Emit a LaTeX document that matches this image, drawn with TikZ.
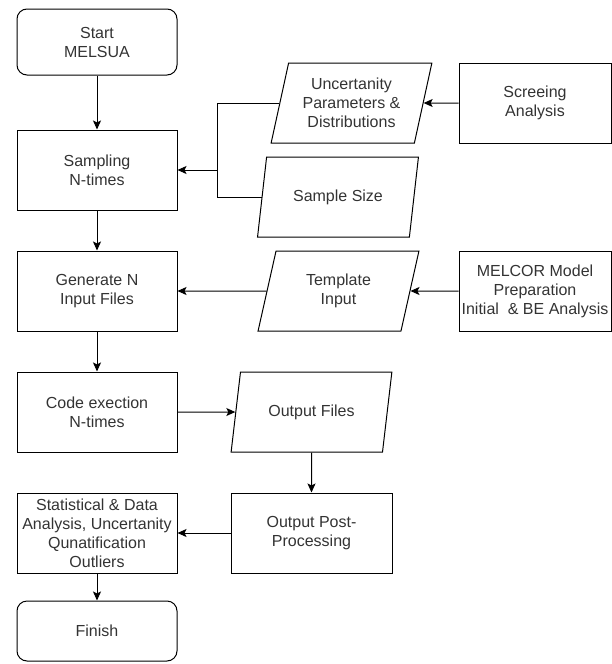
\documentclass[tikz,border=0pt]{standalone}
\usepackage{fontspec}
\newfontfamily\diafont{Liberation Sans}
\usetikzlibrary{arrows.meta,shapes.geometric}

\begin{document}
\begin{tikzpicture}[x=1pt,y=-1pt,>={Stealth[length=9pt,width=8pt,inset=2pt]},
  line width=1pt,
  every node/.style={font=\diafont\fontsize{16}{19}\selectfont,text=black!80,align=center},
  term node/.style={rectangle,rounded corners=10pt,draw,minimum width=160pt,minimum height=66pt,inner sep=1pt},
  proc node/.style={rectangle,draw,minimum width=160pt,minimum height=80pt,inner sep=1pt},
  side node/.style={rectangle,draw,minimum width=152pt,minimum height=80pt,inner sep=1pt},
  data node/.style={trapezium,draw,trapezium stretches=true,trapezium left angle=75,
    trapezium right angle=105,minimum width=161pt,minimum height=80pt,inner sep=1pt}]

  \useasboundingbox (0,0) rectangle (612,664);

  % main column
  \node[term node] (start) at (97,42) {Start\\MELSUA};
  \node[proc node] (sampling) at (97,170) {Sampling\\N-times};
  \node[proc node] (generate) at (97,291) {Generate N\\Input Files};
  \node[proc node] (code) at (97,412) {Code exection\\N-times};
  \node[proc node] (stats) at (97,533) {Statistical \& Data\\Analysis, Uncertanity\\Qunatification\\Outliers};
  \node[term node,minimum height=60pt] (finish) at (97,631) {Finish};

  % inputs and outputs
  \node[data node] (uncert) at (351.5,103) {Uncertanity\\Parameters \&\\Distributions};
  \node[data node,trapezium left angle=71,trapezium right angle=109] (ssize) at (338,197) {Sample Size};
  \node[data node] (templ) at (338.5,291) {Template\\Input};
  \node[data node,trapezium left angle=71,trapezium right angle=109] (outfiles) at (311.5,412) {Output Files};
  \node[proc node,minimum width=161pt] (post) at (311.5,533) {Output Post-\\Processing};

  % right column
  \node[side node] (screen) at (535,103) {Screeing\\Analysis};
  \node[side node] (melcor) at (535,291) {MELCOR Model\\Preparation\\Initial\ \ \& BE Analysis};

  \coordinate (jn) at (217,170);

  \draw[->] (start) -- (sampling);
  \draw[->] (screen) -- (uncert.east);
  \draw (uncert.west) -| (jn);
  \draw (ssize.west) -| (jn);
  \draw[->] (jn) -- (sampling.east);
  \draw[->] (sampling) -- (generate);
  \draw[->] (melcor) -- (templ.east);
  \draw[->] (templ.west) -- (generate.east);
  \draw[->] (generate) -- (code);
  \draw[->] (code.east) -- (outfiles.west);
  \draw[->] (outfiles.south) -- (post.north);
  \draw[->] (post) -- (stats);
  \draw[->] (stats) -- (finish);

\end{tikzpicture}
\end{document}
